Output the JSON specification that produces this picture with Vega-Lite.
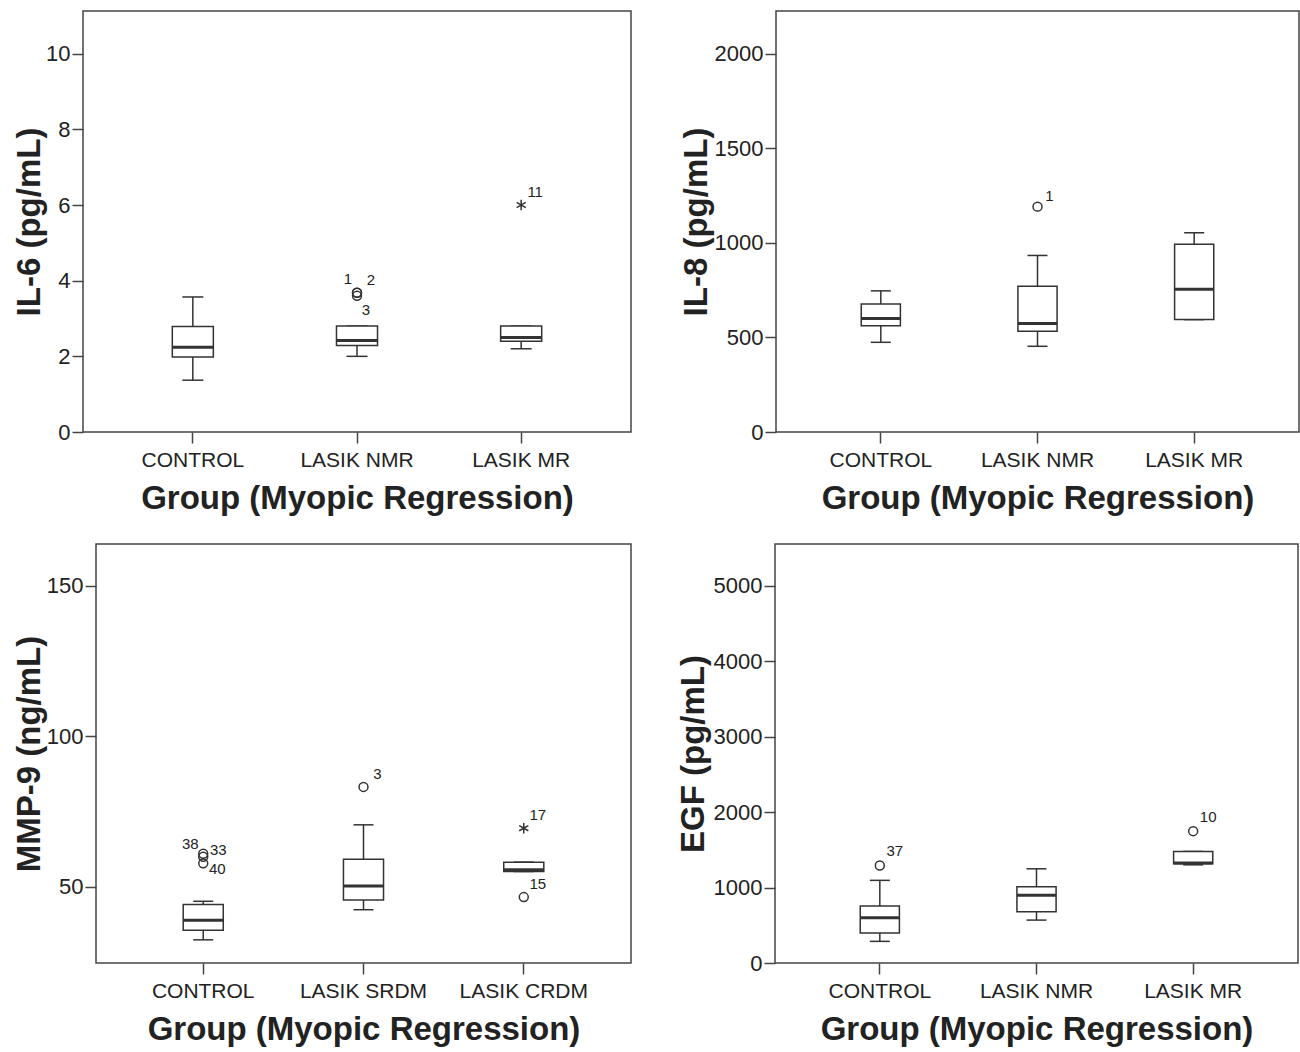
{
  "$schema": "https://vega.github.io/schema/vega-lite/v6.json",
  "background": "white",
  "padding": {"left": 12, "top": 10, "right": 0, "bottom": 0},
  "config": {
    "font": "Liberation Sans",
    "view": {"stroke": "#444", "strokeWidth": 1.5},
    "axis": {"domain": false, "grid": false, "tickSize": 11, "tickColor": "#444", "tickWidth": 1.5, "labelFontSize": 21, "labelColor": "#222", "labelFont": "Liberation Sans", "titleFont": "Liberation Sans", "titleFontSize": 33, "titleFontWeight": "bold", "titleColor": "#222"},
    "axisY": {"labelPadding": 2, "labelFontSize": 22, "titleAngle": -90, "titleAlign": "center", "titleBaseline": "alphabetic"},
    "axisX": {"labelPadding": 6, "labelAngle": 0}
  },
  "datasets": {
    "box": [
      {"panel": "IL6", "group": "CONTROL", "lower": 1.37, "q1": 1.98, "median": 2.24, "q3": 2.79, "upper": 3.57},
      {"panel": "IL6", "group": "LASIK NMR", "lower": 2.0, "q1": 2.29, "median": 2.42, "q3": 2.8, "upper": 2.8},
      {"panel": "IL6", "group": "LASIK MR", "lower": 2.2, "q1": 2.4, "median": 2.5, "q3": 2.8, "upper": 2.8},
      {"panel": "IL8", "group": "CONTROL", "lower": 474, "q1": 562, "median": 600, "q3": 677, "upper": 746},
      {"panel": "IL8", "group": "LASIK NMR", "lower": 453, "q1": 533, "median": 573, "q3": 770, "upper": 933},
      {"panel": "IL8", "group": "LASIK MR", "lower": 594, "q1": 594, "median": 754, "q3": 992, "upper": 1053},
      {"panel": "MMP9", "group": "CONTROL", "lower": 32.4, "q1": 35.6, "median": 38.9, "q3": 44.1, "upper": 45.2},
      {"panel": "MMP9", "group": "LASIK SRDM", "lower": 42.4, "q1": 45.6, "median": 50.3, "q3": 59.2, "upper": 70.6},
      {"panel": "MMP9", "group": "LASIK CRDM", "lower": 55.1, "q1": 55.1, "median": 55.7, "q3": 58.2, "upper": 58.2},
      {"panel": "EGF", "group": "CONTROL", "lower": 287, "q1": 398, "median": 601, "q3": 755, "upper": 1096},
      {"panel": "EGF", "group": "LASIK NMR", "lower": 569, "q1": 680, "median": 897, "q3": 1011, "upper": 1249},
      {"panel": "EGF", "group": "LASIK MR", "lower": 1302, "q1": 1316, "median": 1325, "q3": 1479, "upper": 1479}
    ],
    "pts": [
      {"panel": "IL6", "group": "LASIK NMR", "value": 3.68, "id": "1", "kind": "outlier"},
      {"panel": "IL6", "group": "LASIK NMR", "value": 3.68, "id": "2", "kind": "outlier"},
      {"panel": "IL6", "group": "LASIK NMR", "value": 3.6, "id": "3", "kind": "outlier"},
      {"panel": "IL6", "group": "LASIK MR", "value": 6.0, "id": "11", "kind": "extreme"},
      {"panel": "IL8", "group": "LASIK NMR", "value": 1191, "id": "1", "kind": "outlier"},
      {"panel": "MMP9", "group": "CONTROL", "value": 61.0, "id": "33", "kind": "outlier"},
      {"panel": "MMP9", "group": "CONTROL", "value": 60.0, "id": "38", "kind": "outlier"},
      {"panel": "MMP9", "group": "CONTROL", "value": 57.8, "id": "40", "kind": "outlier"},
      {"panel": "MMP9", "group": "LASIK SRDM", "value": 83.2, "id": "3", "kind": "outlier"},
      {"panel": "MMP9", "group": "LASIK CRDM", "value": 69.5, "id": "17", "kind": "extreme"},
      {"panel": "MMP9", "group": "LASIK CRDM", "value": 46.6, "id": "15", "kind": "outlier"},
      {"panel": "EGF", "group": "CONTROL", "value": 1293, "id": "37", "kind": "outlier"},
      {"panel": "EGF", "group": "LASIK MR", "value": 1748, "id": "10", "kind": "outlier"}
    ]
  },
  "columns": 1,
  "align": "none",
  "spacing": 27,
  "concat": [
    {
      "hconcat": [
        {
          "width": 548, "height": 421,
          "encoding": {"x": {"field": "group", "type": "nominal", "sort": ["CONTROL", "LASIK NMR", "LASIK MR"], "scale": {"type": "band", "paddingInner": 0.75, "paddingOuter": 0.544}, "axis": {"title": "Group (Myopic Regression)", "titleY": 50, "titleBaseline": "top"}}},
          "layer": [
            {"data": {"name": "box"}, "transform": [{"filter": "datum.panel==='IL6'"}], "mark": {"type": "rule", "stroke": "#333", "strokeWidth": 1.5},
             "encoding": {"y": {"field": "lower", "type": "quantitative", "scale": {"domain": [0, 11.13], "nice": false, "zero": false}, "axis": {"values": [0, 2, 4, 6, 8, 10], "format": "d", "title": "IL-6 (pg/mL)", "titleX": -44, "titleY": 210.5}}, "y2": {"field": "upper"}}},
            {"data": {"name": "box"}, "transform": [{"filter": "datum.panel==='IL6'"}], "mark": {"type": "tick", "size": 21, "thickness": 1.5, "color": "#333", "opacity": 1},
             "encoding": {"y": {"field": "lower", "type": "quantitative", "scale": {"domain": [0, 11.13], "nice": false, "zero": false}, "axis": {"values": [0, 2, 4, 6, 8, 10], "format": "d", "title": "IL-6 (pg/mL)", "titleX": -44, "titleY": 210.5}}}},
            {"data": {"name": "box"}, "transform": [{"filter": "datum.panel==='IL6'"}], "mark": {"type": "tick", "size": 21, "thickness": 1.5, "color": "#333", "opacity": 1},
             "encoding": {"y": {"field": "upper", "type": "quantitative", "scale": {"domain": [0, 11.13], "nice": false, "zero": false}, "axis": {"values": [0, 2, 4, 6, 8, 10], "format": "d", "title": "IL-6 (pg/mL)", "titleX": -44, "titleY": 210.5}}}},
            {"data": {"name": "box"}, "transform": [{"filter": "datum.panel==='IL6'"}], "mark": {"type": "bar", "fill": "white", "stroke": "#333", "strokeWidth": 1.5},
             "encoding": {"y": {"field": "q1", "type": "quantitative", "scale": {"domain": [0, 11.13], "nice": false, "zero": false}, "axis": {"values": [0, 2, 4, 6, 8, 10], "format": "d", "title": "IL-6 (pg/mL)", "titleX": -44, "titleY": 210.5}}, "y2": {"field": "q3"}}},
            {"data": {"name": "box"}, "transform": [{"filter": "datum.panel==='IL6'"}], "mark": {"type": "tick", "size": 41, "thickness": 3, "color": "#333", "opacity": 1},
             "encoding": {"y": {"field": "median", "type": "quantitative", "scale": {"domain": [0, 11.13], "nice": false, "zero": false}, "axis": {"values": [0, 2, 4, 6, 8, 10], "format": "d", "title": "IL-6 (pg/mL)", "titleX": -44, "titleY": 210.5}}}},
            {"data": {"name": "pts"}, "transform": [{"filter": "datum.panel==='IL6' && datum.kind==='outlier'"}], "mark": {"type": "point", "shape": "circle", "filled": false, "size": 80, "stroke": "#333", "strokeWidth": 1.5, "opacity": 1},
             "encoding": {"y": {"field": "value", "type": "quantitative", "scale": {"domain": [0, 11.13], "nice": false, "zero": false}, "axis": {"values": [0, 2, 4, 6, 8, 10], "format": "d", "title": "IL-6 (pg/mL)", "titleX": -44, "titleY": 210.5}}}},
            {"data": {"name": "pts"}, "transform": [{"filter": "datum.panel==='IL6' && datum.kind==='extreme'"}], "mark": {"type": "point", "shape": "M0,-1L0,1M-0.87,-0.5L0.87,0.5M-0.87,0.5L0.87,-0.5", "filled": false, "size": 110, "stroke": "#333", "strokeWidth": 1.5, "opacity": 1},
             "encoding": {"y": {"field": "value", "type": "quantitative", "scale": {"domain": [0, 11.13], "nice": false, "zero": false}, "axis": {"values": [0, 2, 4, 6, 8, 10], "format": "d", "title": "IL-6 (pg/mL)", "titleX": -44, "titleY": 210.5}}}},
            {"data": {"name": "pts"}, "transform": [{"filter": "datum.panel==='IL6' && (datum.id==='2' || datum.id==='11')"}], "mark": {"type": "text", "dx": 14, "dy": -13, "fontSize": 15, "fill": "#222"},
             "encoding": {"y": {"field": "value", "type": "quantitative", "scale": {"domain": [0, 11.13], "nice": false, "zero": false}, "axis": {"values": [0, 2, 4, 6, 8, 10], "format": "d", "title": "IL-6 (pg/mL)", "titleX": -44, "titleY": 210.5}}, "text": {"field": "id"}}},
            {"data": {"name": "pts"}, "transform": [{"filter": "datum.panel==='IL6' && datum.id==='1'"}], "mark": {"type": "text", "dx": -9, "dy": -14, "fontSize": 15, "fill": "#222"},
             "encoding": {"y": {"field": "value", "type": "quantitative", "scale": {"domain": [0, 11.13], "nice": false, "zero": false}, "axis": {"values": [0, 2, 4, 6, 8, 10], "format": "d", "title": "IL-6 (pg/mL)", "titleX": -44, "titleY": 210.5}}, "text": {"field": "id"}}},
            {"data": {"name": "pts"}, "transform": [{"filter": "datum.panel==='IL6' && datum.id==='3'"}], "mark": {"type": "text", "dx": 9, "dy": 14, "fontSize": 15, "fill": "#222"},
             "encoding": {"y": {"field": "value", "type": "quantitative", "scale": {"domain": [0, 11.13], "nice": false, "zero": false}, "axis": {"values": [0, 2, 4, 6, 8, 10], "format": "d", "title": "IL-6 (pg/mL)", "titleX": -44, "titleY": 210.5}}, "text": {"field": "id"}}}
          ]
        },
        {
          "width": 523, "height": 421,
          "encoding": {"x": {"field": "group", "type": "nominal", "sort": ["CONTROL", "LASIK NMR", "LASIK MR"], "scale": {"type": "band", "paddingInner": 0.75, "paddingOuter": 0.544}, "axis": {"title": "Group (Myopic Regression)", "titleY": 50, "titleBaseline": "top"}}},
          "layer": [
            {"data": {"name": "box"}, "transform": [{"filter": "datum.panel==='IL8'"}], "mark": {"type": "rule", "stroke": "#333", "strokeWidth": 1.5},
             "encoding": {"y": {"field": "lower", "type": "quantitative", "scale": {"domain": [0, 2225], "nice": false, "zero": false}, "axis": {"values": [0, 500, 1000, 1500, 2000], "format": "d", "title": "IL-8 (pg/mL)", "titleX": -70, "titleY": 210.5}}, "y2": {"field": "upper"}}},
            {"data": {"name": "box"}, "transform": [{"filter": "datum.panel==='IL8'"}], "mark": {"type": "tick", "size": 20, "thickness": 1.5, "color": "#333", "opacity": 1},
             "encoding": {"y": {"field": "lower", "type": "quantitative", "scale": {"domain": [0, 2225], "nice": false, "zero": false}, "axis": {"values": [0, 500, 1000, 1500, 2000], "format": "d", "title": "IL-8 (pg/mL)", "titleX": -70, "titleY": 210.5}}}},
            {"data": {"name": "box"}, "transform": [{"filter": "datum.panel==='IL8'"}], "mark": {"type": "tick", "size": 20, "thickness": 1.5, "color": "#333", "opacity": 1},
             "encoding": {"y": {"field": "upper", "type": "quantitative", "scale": {"domain": [0, 2225], "nice": false, "zero": false}, "axis": {"values": [0, 500, 1000, 1500, 2000], "format": "d", "title": "IL-8 (pg/mL)", "titleX": -70, "titleY": 210.5}}}},
            {"data": {"name": "box"}, "transform": [{"filter": "datum.panel==='IL8'"}], "mark": {"type": "bar", "fill": "white", "stroke": "#333", "strokeWidth": 1.5},
             "encoding": {"y": {"field": "q1", "type": "quantitative", "scale": {"domain": [0, 2225], "nice": false, "zero": false}, "axis": {"values": [0, 500, 1000, 1500, 2000], "format": "d", "title": "IL-8 (pg/mL)", "titleX": -70, "titleY": 210.5}}, "y2": {"field": "q3"}}},
            {"data": {"name": "box"}, "transform": [{"filter": "datum.panel==='IL8'"}], "mark": {"type": "tick", "size": 39, "thickness": 3, "color": "#333", "opacity": 1},
             "encoding": {"y": {"field": "median", "type": "quantitative", "scale": {"domain": [0, 2225], "nice": false, "zero": false}, "axis": {"values": [0, 500, 1000, 1500, 2000], "format": "d", "title": "IL-8 (pg/mL)", "titleX": -70, "titleY": 210.5}}}},
            {"data": {"name": "pts"}, "transform": [{"filter": "datum.panel==='IL8' && datum.kind==='outlier'"}], "mark": {"type": "point", "shape": "circle", "filled": false, "size": 80, "stroke": "#333", "strokeWidth": 1.5, "opacity": 1},
             "encoding": {"y": {"field": "value", "type": "quantitative", "scale": {"domain": [0, 2225], "nice": false, "zero": false}, "axis": {"values": [0, 500, 1000, 1500, 2000], "format": "d", "title": "IL-8 (pg/mL)", "titleX": -70, "titleY": 210.5}}}},
            {"data": {"name": "pts"}, "transform": [{"filter": "datum.panel==='IL8'"}], "mark": {"type": "text", "dx": 12, "dy": -11, "fontSize": 15, "fill": "#222"},
             "encoding": {"y": {"field": "value", "type": "quantitative", "scale": {"domain": [0, 2225], "nice": false, "zero": false}, "axis": {"values": [0, 500, 1000, 1500, 2000], "format": "d", "title": "IL-8 (pg/mL)", "titleX": -70, "titleY": 210.5}}, "text": {"field": "id"}}}
          ]
        }
      ],
      "spacing": 145,
      "bounds": "flush"
    },
    {
      "hconcat": [
        {
          "hconcat": [
            {"width": 1, "height": 1, "data": {"values": []}, "mark": {"type": "point", "opacity": 0}, "view": {"stroke": null}},
            {
              "width": 535, "height": 419,
              "encoding": {"x": {"field": "group", "type": "nominal", "sort": ["CONTROL", "LASIK SRDM", "LASIK CRDM"], "scale": {"type": "band", "paddingInner": 0.75, "paddingOuter": 0.544}, "axis": {"title": "Group (Myopic Regression)", "titleY": 50, "titleBaseline": "top"}}},
              "layer": [
                {"data": {"name": "box"}, "transform": [{"filter": "datum.panel==='MMP9'"}], "mark": {"type": "rule", "stroke": "#333", "strokeWidth": 1.5},
                 "encoding": {"y": {"field": "lower", "type": "quantitative", "scale": {"domain": [24.7, 163.9], "nice": false, "zero": false}, "axis": {"values": [50, 100, 150], "format": "d", "title": "MMP-9 (ng/mL)", "titleX": -57, "titleY": 209.5}}, "y2": {"field": "upper"}}},
                {"data": {"name": "box"}, "transform": [{"filter": "datum.panel==='MMP9'"}], "mark": {"type": "tick", "size": 20, "thickness": 1.5, "color": "#333", "opacity": 1},
                 "encoding": {"y": {"field": "lower", "type": "quantitative", "scale": {"domain": [24.7, 163.9], "nice": false, "zero": false}, "axis": {"values": [50, 100, 150], "format": "d", "title": "MMP-9 (ng/mL)", "titleX": -57, "titleY": 209.5}}}},
                {"data": {"name": "box"}, "transform": [{"filter": "datum.panel==='MMP9'"}], "mark": {"type": "tick", "size": 20, "thickness": 1.5, "color": "#333", "opacity": 1},
                 "encoding": {"y": {"field": "upper", "type": "quantitative", "scale": {"domain": [24.7, 163.9], "nice": false, "zero": false}, "axis": {"values": [50, 100, 150], "format": "d", "title": "MMP-9 (ng/mL)", "titleX": -57, "titleY": 209.5}}}},
                {"data": {"name": "box"}, "transform": [{"filter": "datum.panel==='MMP9'"}], "mark": {"type": "bar", "fill": "white", "stroke": "#333", "strokeWidth": 1.5},
                 "encoding": {"y": {"field": "q1", "type": "quantitative", "scale": {"domain": [24.7, 163.9], "nice": false, "zero": false}, "axis": {"values": [50, 100, 150], "format": "d", "title": "MMP-9 (ng/mL)", "titleX": -57, "titleY": 209.5}}, "y2": {"field": "q3"}}},
                {"data": {"name": "box"}, "transform": [{"filter": "datum.panel==='MMP9'"}], "mark": {"type": "tick", "size": 40, "thickness": 3, "color": "#333", "opacity": 1},
                 "encoding": {"y": {"field": "median", "type": "quantitative", "scale": {"domain": [24.7, 163.9], "nice": false, "zero": false}, "axis": {"values": [50, 100, 150], "format": "d", "title": "MMP-9 (ng/mL)", "titleX": -57, "titleY": 209.5}}}},
                {"data": {"name": "pts"}, "transform": [{"filter": "datum.panel==='MMP9' && datum.kind==='outlier'"}], "mark": {"type": "point", "shape": "circle", "filled": false, "size": 80, "stroke": "#333", "strokeWidth": 1.5, "opacity": 1},
                 "encoding": {"y": {"field": "value", "type": "quantitative", "scale": {"domain": [24.7, 163.9], "nice": false, "zero": false}, "axis": {"values": [50, 100, 150], "format": "d", "title": "MMP-9 (ng/mL)", "titleX": -57, "titleY": 209.5}}}},
                {"data": {"name": "pts"}, "transform": [{"filter": "datum.panel==='MMP9' && datum.kind==='extreme'"}], "mark": {"type": "point", "shape": "M0,-1L0,1M-0.87,-0.5L0.87,0.5M-0.87,0.5L0.87,-0.5", "filled": false, "size": 110, "stroke": "#333", "strokeWidth": 1.5, "opacity": 1},
                 "encoding": {"y": {"field": "value", "type": "quantitative", "scale": {"domain": [24.7, 163.9], "nice": false, "zero": false}, "axis": {"values": [50, 100, 150], "format": "d", "title": "MMP-9 (ng/mL)", "titleX": -57, "titleY": 209.5}}}},
                {"data": {"name": "pts"}, "transform": [{"filter": "datum.panel==='MMP9' && (datum.id==='3' || datum.id==='17' || datum.id==='15')"}], "mark": {"type": "text", "dx": 14, "dy": -13, "fontSize": 15, "fill": "#222"},
                 "encoding": {"y": {"field": "value", "type": "quantitative", "scale": {"domain": [24.7, 163.9], "nice": false, "zero": false}, "axis": {"values": [50, 100, 150], "format": "d", "title": "MMP-9 (ng/mL)", "titleX": -57, "titleY": 209.5}}, "text": {"field": "id"}}},
                {"data": {"name": "pts"}, "transform": [{"filter": "datum.panel==='MMP9' && datum.id==='38'"}], "mark": {"type": "text", "dx": -13, "dy": -13, "fontSize": 15, "fill": "#222"},
                 "encoding": {"y": {"field": "value", "type": "quantitative", "scale": {"domain": [24.7, 163.9], "nice": false, "zero": false}, "axis": {"values": [50, 100, 150], "format": "d", "title": "MMP-9 (ng/mL)", "titleX": -57, "titleY": 209.5}}, "text": {"field": "id"}}},
                {"data": {"name": "pts"}, "transform": [{"filter": "datum.panel==='MMP9' && datum.id==='33'"}], "mark": {"type": "text", "dx": 15, "dy": -4, "fontSize": 15, "fill": "#222"},
                 "encoding": {"y": {"field": "value", "type": "quantitative", "scale": {"domain": [24.7, 163.9], "nice": false, "zero": false}, "axis": {"values": [50, 100, 150], "format": "d", "title": "MMP-9 (ng/mL)", "titleX": -57, "titleY": 209.5}}, "text": {"field": "id"}}},
                {"data": {"name": "pts"}, "transform": [{"filter": "datum.panel==='MMP9' && datum.id==='40'"}], "mark": {"type": "text", "dx": 14, "dy": 6, "fontSize": 15, "fill": "#222"},
                 "encoding": {"y": {"field": "value", "type": "quantitative", "scale": {"domain": [24.7, 163.9], "nice": false, "zero": false}, "axis": {"values": [50, 100, 150], "format": "d", "title": "MMP-9 (ng/mL)", "titleX": -57, "titleY": 209.5}}, "text": {"field": "id"}}}
              ]
            }
          ],
          "spacing": 12,
          "bounds": "flush"
        },
        {
          "width": 523, "height": 419,
          "encoding": {"x": {"field": "group", "type": "nominal", "sort": ["CONTROL", "LASIK NMR", "LASIK MR"], "scale": {"type": "band", "paddingInner": 0.75, "paddingOuter": 0.544}, "axis": {"title": "Group (Myopic Regression)", "titleY": 50, "titleBaseline": "top"}}},
          "layer": [
            {"data": {"name": "box"}, "transform": [{"filter": "datum.panel==='EGF'"}], "mark": {"type": "rule", "stroke": "#333", "strokeWidth": 1.5},
             "encoding": {"y": {"field": "lower", "type": "quantitative", "scale": {"domain": [0, 5556], "nice": false, "zero": false}, "axis": {"values": [0, 1000, 2000, 3000, 4000, 5000], "format": "d", "title": "EGF (pg/mL)", "titleX": -72, "titleY": 209.5}}, "y2": {"field": "upper"}}},
            {"data": {"name": "box"}, "transform": [{"filter": "datum.panel==='EGF'"}], "mark": {"type": "tick", "size": 20, "thickness": 1.5, "color": "#333", "opacity": 1},
             "encoding": {"y": {"field": "lower", "type": "quantitative", "scale": {"domain": [0, 5556], "nice": false, "zero": false}, "axis": {"values": [0, 1000, 2000, 3000, 4000, 5000], "format": "d", "title": "EGF (pg/mL)", "titleX": -72, "titleY": 209.5}}}},
            {"data": {"name": "box"}, "transform": [{"filter": "datum.panel==='EGF'"}], "mark": {"type": "tick", "size": 20, "thickness": 1.5, "color": "#333", "opacity": 1},
             "encoding": {"y": {"field": "upper", "type": "quantitative", "scale": {"domain": [0, 5556], "nice": false, "zero": false}, "axis": {"values": [0, 1000, 2000, 3000, 4000, 5000], "format": "d", "title": "EGF (pg/mL)", "titleX": -72, "titleY": 209.5}}}},
            {"data": {"name": "box"}, "transform": [{"filter": "datum.panel==='EGF'"}], "mark": {"type": "bar", "fill": "white", "stroke": "#333", "strokeWidth": 1.5},
             "encoding": {"y": {"field": "q1", "type": "quantitative", "scale": {"domain": [0, 5556], "nice": false, "zero": false}, "axis": {"values": [0, 1000, 2000, 3000, 4000, 5000], "format": "d", "title": "EGF (pg/mL)", "titleX": -72, "titleY": 209.5}}, "y2": {"field": "q3"}}},
            {"data": {"name": "box"}, "transform": [{"filter": "datum.panel==='EGF'"}], "mark": {"type": "tick", "size": 39, "thickness": 3, "color": "#333", "opacity": 1},
             "encoding": {"y": {"field": "median", "type": "quantitative", "scale": {"domain": [0, 5556], "nice": false, "zero": false}, "axis": {"values": [0, 1000, 2000, 3000, 4000, 5000], "format": "d", "title": "EGF (pg/mL)", "titleX": -72, "titleY": 209.5}}}},
            {"data": {"name": "pts"}, "transform": [{"filter": "datum.panel==='EGF' && datum.kind==='outlier'"}], "mark": {"type": "point", "shape": "circle", "filled": false, "size": 80, "stroke": "#333", "strokeWidth": 1.5, "opacity": 1},
             "encoding": {"y": {"field": "value", "type": "quantitative", "scale": {"domain": [0, 5556], "nice": false, "zero": false}, "axis": {"values": [0, 1000, 2000, 3000, 4000, 5000], "format": "d", "title": "EGF (pg/mL)", "titleX": -72, "titleY": 209.5}}}},
            {"data": {"name": "pts"}, "transform": [{"filter": "datum.panel==='EGF'"}], "mark": {"type": "text", "dx": 15, "dy": -14, "fontSize": 15, "fill": "#222"},
             "encoding": {"y": {"field": "value", "type": "quantitative", "scale": {"domain": [0, 5556], "nice": false, "zero": false}, "axis": {"values": [0, 1000, 2000, 3000, 4000, 5000], "format": "d", "title": "EGF (pg/mL)", "titleX": -72, "titleY": 209.5}}, "text": {"field": "id"}}}
          ]
        }
      ],
      "spacing": 44
    }
  ]
}
